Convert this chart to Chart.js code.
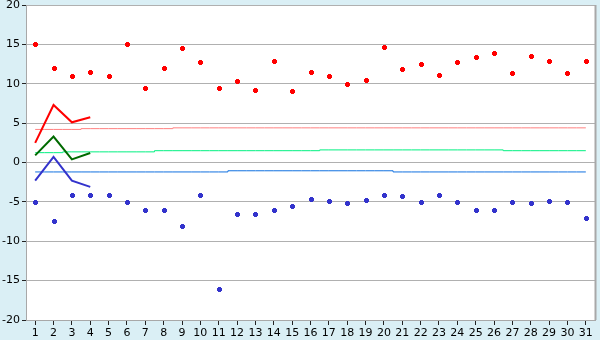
<!DOCTYPE html>
<html>
<head>
<meta charset="utf-8">
<script src="https://cdn.jsdelivr.net/npm/chart.js@4/dist/chart.umd.min.js"></script>
<style>
  html, body { margin: 0; padding: 0; background: #daeff5; }
  #wrap { width: 600px; height: 340px; }
</style>
</head>
<body>
<div id="wrap"><canvas id="myChart" width="600" height="340"></canvas></div>
<script>
const days = [];
for (let d = 1; d <= 31; d++) days.push(String(d));

// daily max / min (markers)
const maxT = [15, 12, 11, 11.5, 11, 15, 9.5, 12, 14.5, 12.7, 9.5, 10.4, 9.2, 12.9, 9.1, 11.5,
  11, 10, 10.5, 14.7, 11.9, 12.5, 11.1, 12.7, 13.4, 13.9, 11.4, 13.5, 12.9, 11.4, 12.9];
const minT = [-5, -7.4, -4.1, -4.1, -4.1, -5, -6, -6, -8, -4.1, -16, -6.6, -6.5, -6, -5.5, -4.6,
  -4.9, -5.2, -4.7, -4.1, -4.2, -5, -4.1, -5, -6, -6, -5, -5.1, -4.9, -5, -7];

// current month lines (first 4 days)
const curMax = [2.5, 7.3, 5.1, 5.75];
const curAvg = [0.9, 3.3, 0.4, 1.2];
const curMin = [-2.3, 0.7, -2.3, -3.1];

// normals (stepped)
const normMax = [4.2, 4.2, 4.2, 4.3, 4.3, 4.3, 4.3, 4.3, 4.4, 4.4, 4.4, 4.4, 4.4, 4.4, 4.4, 4.4,
  4.4, 4.4, 4.4, 4.4, 4.4, 4.4, 4.4, 4.4, 4.4, 4.4, 4.4, 4.4, 4.4, 4.4, 4.4];
const normAvg = [1.25, 1.25, 1.35, 1.35, 1.35, 1.35, 1.35, 1.5, 1.5, 1.5, 1.5, 1.5, 1.5, 1.5, 1.5, 1.5,
  1.6, 1.6, 1.6, 1.6, 1.6, 1.6, 1.6, 1.6, 1.6, 1.6, 1.5, 1.5, 1.5, 1.5, 1.5];
const normMin = [-1.2, -1.2, -1.2, -1.2, -1.2, -1.2, -1.2, -1.2, -1.2, -1.2, -1.2, -1.05, -1.05, -1.05, -1.05, -1.05,
  -1.05, -1.05, -1.05, -1.05, -1.2, -1.2, -1.2, -1.2, -1.2, -1.2, -1.2, -1.2, -1.2, -1.2, -1.2];

function pad(arr) {
  const out = arr.slice();
  while (out.length < 31) out.push(null);
  return out;
}

// background, right frame edge and crisp "+" markers
const frame = {
  id: "frame",
  beforeDraw(chart) {
    const { ctx, chartArea: a } = chart;
    ctx.save();
    ctx.fillStyle = "#daeff5";
    ctx.fillRect(0, 0, chart.width, chart.height);
    ctx.fillStyle = "#ffffff";
    ctx.fillRect(a.left, a.top, a.right - a.left, a.bottom - a.top);
    ctx.restore();
  },
  afterDatasetsDraw(chart) {
    const { ctx, chartArea: a } = chart;
    ctx.save();
    chart.data.datasets.forEach((ds, i) => {
      if (!ds.plusColor) return;
      ctx.fillStyle = ds.plusColor;
      chart.getDatasetMeta(i).data.forEach((el) => {
        const x = Math.round(el.x) - 2;
        const y = Math.round(el.y) - 2;
        ctx.fillRect(x, y + 1, 5, 3);
        ctx.fillRect(x + 1, y, 3, 5);
      });
    });
    ctx.strokeStyle = "#a8a8a8";
    ctx.lineWidth = 2;
    ctx.beginPath();
    ctx.moveTo(a.right + 0.5, a.top);
    ctx.lineTo(a.right + 0.5, a.bottom);
    ctx.stroke();
    ctx.restore();
  },
};

const pointSet = (data, color) => ({
  data: data,
  showLine: false,
  pointRadius: 0,
  pointHoverRadius: 0,
  plusColor: color,
});

const lineSet = (data, color) => ({
  data: pad(data),
  borderColor: color,
  borderWidth: 2,
  pointRadius: 0,
  spanGaps: false,
});

const stepSet = (data, color) => ({
  data: data,
  borderColor: color,
  borderWidth: 1,
  pointRadius: 0,
  stepped: "middle",
});

new Chart(document.getElementById("myChart"), {
  type: "line",
  data: {
    labels: days,
    datasets: [
      pointSet(maxT, "#ff0000"),
      pointSet(minT, "#3333cc"),
      lineSet(curMax, "#ff0000"),
      lineSet(curAvg, "#006a00"),
      lineSet(curMin, "#3333cc"),
      stepSet(normMax, "#ff8080"),
      stepSet(normAvg, "#00f080"),
      stepSet(normMin, "#1070e0"),
    ],
  },
  options: {
    responsive: false,
    animation: false,
    layout: { padding: { top: 5, right: 5, left: 0, bottom: 0 } },
    plugins: { legend: { display: false }, tooltip: { enabled: false } },
    scales: {
      x: {
        offset: true,
        grid: {
          offset: false,
          drawOnChartArea: false,
          drawTicks: true,
          tickLength: 5,
          tickColor: "#222",
        },
        border: { color: "#a8a8a8", width: 1 },
        ticks: {
          color: "#000",
          font: { family: "DejaVu Sans", size: 11 },
          padding: 2,
          maxRotation: 0,
          autoSkip: false,
        },
        afterFit(scale) {
          scale.height = 20;
          scale.paddingLeft = 0;
          scale.paddingRight = 0;
        },
      },
      y: {
        min: -20,
        max: 20,
        grid: { color: "#b0b0b0", tickLength: 4, tickColor: "#222" },
        border: { color: "#a8a8a8", width: 1 },
        ticks: {
          stepSize: 5,
          color: "#000",
          font: { family: "DejaVu Sans", size: 11 },
          padding: 2,
        },
        afterFit(scale) {
          scale.width = 26;
          scale.paddingTop = 0;
          scale.paddingBottom = 0;
        },
      },
    },
  },
  plugins: [frame],
});
</script>
</body>
</html>
